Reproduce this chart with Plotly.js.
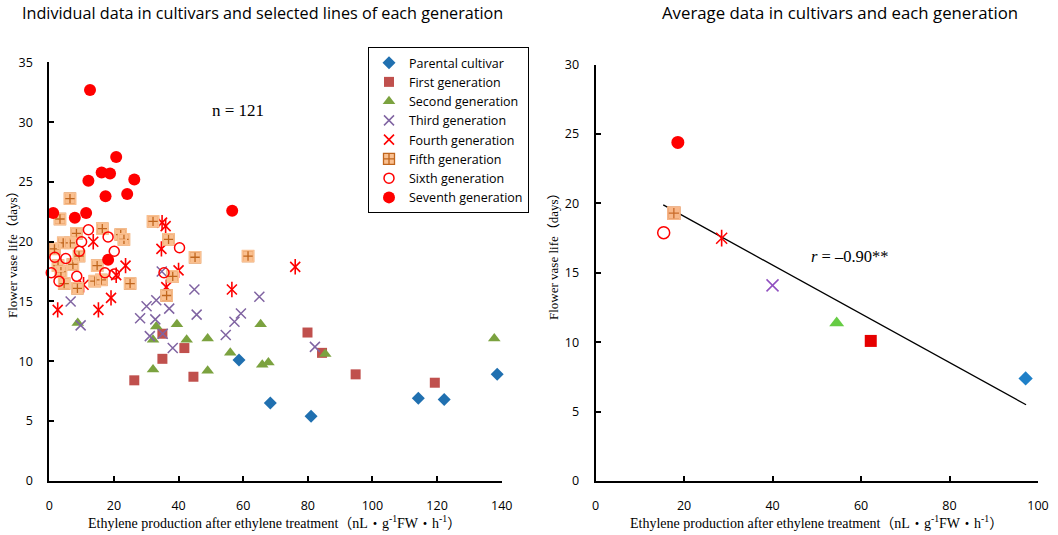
<!DOCTYPE html>
<html>
<head>
<meta charset="utf-8">
<script src="https://cdn.plot.ly/plotly-3.0.1.min.js"></script>
<style>html,body{margin:0;padding:0;background:#fff;}#chart{width:1058px;height:535px;}</style>
</head>
<body>
<div id="chart"></div>
<script>
// ---------- data: individual lines (left panel) ----------
const seriesNames = ["Parental cultivar","First generation","Second generation","Third generation","Fourth generation","Fifth generation","Sixth generation","Seventh generation"];

const parentalX = [58.7, 68.4, 81.0, 114.2, 122.2, 138.6];
const parentalY = [10.1, 6.5, 5.4, 6.9, 6.8, 8.9];

const firstX = [26.3, 35.0, 35.0, 41.8, 44.6, 79.9, 84.4, 94.8, 119.3];
const firstY = [8.4, 10.2, 12.3, 11.1, 8.7, 12.4, 10.7, 8.9, 8.2];

const secondX = [8.8, 32.1, 32.1, 33.1, 39.5, 42.5, 49.0, 49.0, 56.0, 65.4, 65.9, 67.8, 85.4, 137.7];
const secondY = [13.2, 9.3, 11.8, 12.9, 13.1, 11.8, 11.9, 9.2, 10.7, 13.1, 9.7, 9.9, 10.6, 11.9];

const thirdX = [6.6, 9.7, 28.1, 30.1, 31.1, 32.8, 33.1, 34.8, 35.1, 37.1, 38.2, 44.9, 45.6, 54.6, 57.3, 59.3, 65.0, 82.2];
const thirdY = [15.0, 13.0, 13.6, 14.6, 12.1, 13.5, 15.1, 17.5, 12.3, 14.4, 11.1, 16.0, 13.9, 12.2, 13.3, 14.0, 15.4, 11.2];

const fourthX = [2.6, 10.6, 13.6, 15.2, 19.1, 20.7, 23.6, 34.7, 34.9, 36.0, 36.2, 40.0, 56.5, 76.1];
const fourthY = [14.3, 16.4, 20.0, 14.3, 15.3, 17.2, 18.0, 19.4, 21.6, 21.3, 16.2, 17.6, 16.0, 17.9];

const fifthX = [3.3, 6.4, 8.4, 16.4, 22.1, 23.1, 1.6, 4.3, 6.5, 9.2, 2.7, 7.3, 14.8, 3.6, 14.1, 16.1, 8.7, 25.0, 4.6, 32.1, 36.9, 45.1, 38.2, 36.3, 61.5];
const fifthY = [21.9, 23.6, 20.7, 21.1, 20.6, 20.2, 19.4, 19.9, 19.9, 18.8, 18.0, 18.1, 18.0, 17.5, 16.7, 16.8, 16.1, 16.5, 16.5, 21.7, 20.2, 18.7, 17.1, 15.5, 18.8];

const sixthX = [12.1, 18.2, 10.0, 9.3, 20.1, 40.3, 1.7, 5.1, 0.6, 3.0, 8.5, 17.2, 20.1, 35.5];
const sixthY = [21.0, 20.4, 20.0, 19.2, 19.2, 19.5, 18.7, 18.6, 17.4, 16.7, 17.1, 17.4, 17.3, 17.4];

const seventhX = [20.7, 16.2, 18.8, 12.1, 26.3, 17.4, 24.1, 1.2, 7.9, 11.4, 18.2, 12.6, 56.6];
const seventhY = [27.1, 25.8, 25.7, 25.1, 25.2, 23.8, 24.0, 22.4, 22.0, 22.4, 18.5, 32.7, 22.6];

// ---------- data: averages (right panel), same order as seriesNames ----------
const avgX = [97.2, 62.2, 54.5, 40.0, 28.5, 17.7, 15.4, 18.6];
const avgY = [7.4, 10.1, 11.4, 14.1, 17.5, 19.3, 17.9, 24.4];

// regression line end points
const fitX = [15.3, 97.3];
const fitY = [19.9, 5.5];

// tick values
const leftXTicks = [0, 20, 40, 60, 80, 100, 120, 140];
const leftYTicks = [0, 5, 10, 15, 20, 25, 30, 35];
const rightXTicks = [0, 20, 40, 60, 80, 100];
const rightYTicks = [0, 5, 10, 15, 20, 25, 30];

// ---------- styles ----------
const leftStyles = [
  {symbol:"diamond", size:10, color:"#2070b0", line:{width:0}},
  {symbol:"square", size:10, color:"#c0504d", line:{width:0}},
  {symbol:"triangle-up", size:11, color:"#7ba23f", line:{width:0}},
  {symbol:"x-thin-open", size:10, color:"#8064a2", line:{width:1.5, color:"#8064a2"}},
  {symbol:"x-thin-open", size:10, color:"#ff0000", line:{width:1.6, color:"#ff0000"}},
  {symbol:"square-cross", size:11, color:"#fac090", line:{width:1.3, color:"#c0651c"}},
  {symbol:"circle-open", size:10, color:"#ff0000", line:{width:1.5, color:"#ff0000"}},
  {symbol:"circle", size:12, color:"#ff0000", line:{width:0}}
];
const rightStyles = [
  {symbol:"diamond", size:11, color:"#1f80c8", line:{width:0}},
  {symbol:"square", size:12, color:"#e60000", line:{width:0}},
  {symbol:"triangle-up", size:13, color:"#66cc44", line:{width:0}},
  {symbol:"x-thin-open", size:12, color:"#9050c0", line:{width:1.5, color:"#9050c0"}},
  {symbol:"x-thin-open", size:11, color:"#ff0000", line:{width:1.5, color:"#ff0000"}},
  {symbol:"square-cross", size:12, color:"#f8b88b", line:{width:1.3, color:"#c96b2b"}},
  {symbol:"circle-open", size:12, color:"#ff0000", line:{width:1.5, color:"#ff0000"}},
  {symbol:"circle", size:13, color:"#ff0000", line:{width:0}}
];

const leftXs = [parentalX, firstX, secondX, thirdX, fourthX, fifthX, sixthX, seventhX];
const leftYs = [parentalY, firstY, secondY, thirdY, fourthY, fifthY, sixthY, seventhY];

// extra overlay marks that complete a composite symbol
function overlays(i, xs, ys, xa, ya, sz) {
  if (i === 4) {
    // vertical bar turning the X into a six-armed asterisk
    return [{type:"scatter", mode:"markers", showlegend:false, x:xs, y:ys, xaxis:xa, yaxis:ya,
      marker:{symbol:"line-ns-open", size:sz + 1, color:"#ff0000", line:{width:1.6, color:"#ff0000"}}, hoverinfo:"skip"}];
  }
  if (i === 5) {
    // cover the dark square outline so only the inner cross stays brown
    const c = xa === "x" ? "#fac090" : "#f8b88b";
    return [{type:"scatter", mode:"markers", showlegend:false, x:xs, y:ys, xaxis:xa, yaxis:ya,
      marker:{symbol:"square-open", size:sz, color:c, line:{width:1.6, color:c}}, hoverinfo:"skip"}];
  }
  return [];
}

const traces = [];
for (let i = 0; i < seriesNames.length; i++) {
  traces.push({
    type:"scatter", mode:"markers", name:seriesNames[i],
    x:leftXs[i], y:leftYs[i], xaxis:"x", yaxis:"y",
    marker:leftStyles[i], cliponaxis:false, hoverinfo:"x+y"
  });
  overlays(i, leftXs[i], leftYs[i], "x", "y", leftStyles[i].size).forEach(t => traces.push(t));
}
// regression line
traces.push({
  type:"scatter", mode:"lines", showlegend:false,
  x:fitX, y:fitY, xaxis:"x2", yaxis:"y2",
  line:{color:"#000", width:1.3}, hoverinfo:"skip"
});
for (let i = 0; i < seriesNames.length; i++) {
  traces.push({
    type:"scatter", mode:"markers", showlegend:false, name:seriesNames[i],
    x:[avgX[i]], y:[avgY[i]], xaxis:"x2", yaxis:"y2",
    marker:rightStyles[i], cliponaxis:false
  });
  overlays(i, [avgX[i]], [avgY[i]], "x2", "y2", rightStyles[i].size).forEach(t => traces.push(t));
}

const tickFont = {family:"Open Sans", size:12.5, color:"#000"};
const serif = "Liberation Serif, Times New Roman, Noto Sans CJK JP, serif";
function axis(extra) {
  return Object.assign({
    showline:true, linecolor:"#000", linewidth:2,
    ticks:"inside", ticklen:5, tickwidth:2, tickcolor:"#000",
    showgrid:false, zeroline:false, tickfont:tickFont,
    fixedrange:true
  }, extra);
}

const xTitle = "Ethylene production after ethylene treatment（nL・g<sup>-1</sup>FW・h<sup>-1</sup>）";
const yTitle = "Flower vase life（days）";

const layout = {
  width:1058, height:535,
  margin:{l:0, r:0, t:0, b:0},
  paper_bgcolor:"#fff", plot_bgcolor:"#fff",
  showlegend:true,
  xaxis: axis({domain:[0.0466, 0.4742], range:[0,140], tickvals:leftXTicks, anchor:"y", ticklabelstandoff:12}),
  yaxis: axis({domain:[0.1015, 0.8832], range:[0,35], tickvals:leftYTicks, anchor:"x", ticklabelstandoff:12}),
  xaxis2: axis({domain:[0.5629, 0.9811], range:[0,100], tickvals:rightXTicks, anchor:"y2", ticklabelstandoff:12}),
  yaxis2: axis({domain:[0.1007, 0.8791], range:[0,30], tickvals:rightYTicks, anchor:"x2", ticklabelstandoff:12}),
  legend:{
    x:368/1058, y:(535-47)/535, xanchor:"left", yanchor:"top",
    bgcolor:"#fff", bordercolor:"#000", borderwidth:1,
    font:{family:"Open Sans, Lato, sans-serif", size:12.5, color:"#000"},
    tracegroupgap:0, itemwidth:30
  },
  annotations:[
    {text:"Individual data in cultivars and selected lines of each generation", xref:"paper", yref:"paper",
     x:262.5/1058, y:(535-13)/535, xanchor:"center", yanchor:"middle", showarrow:false,
     font:{family:"Open Sans", size:16.2, color:"#000"}},
    {text:"Average data in cultivars and each generation", xref:"paper", yref:"paper",
     x:840/1058, y:(535-13)/535, xanchor:"center", yanchor:"middle", showarrow:false,
     font:{family:"Open Sans", size:16.8, color:"#000"}},
    {text:xTitle, xref:"paper", yref:"paper", x:274/1058, y:(535-522)/535,
     xanchor:"center", yanchor:"middle", showarrow:false, font:{family:serif, size:14, color:"#000"}},
    {text:xTitle, xref:"paper", yref:"paper", x:816/1058, y:(535-522)/535,
     xanchor:"center", yanchor:"middle", showarrow:false, font:{family:serif, size:14, color:"#000"}},
    {text:yTitle, xref:"paper", yref:"paper", x:13/1058, y:(535-251)/535, textangle:-90,
     xanchor:"center", yanchor:"middle", showarrow:false, font:{family:serif, size:13, color:"#000"}},
    {text:yTitle, xref:"paper", yref:"paper", x:553/1058, y:(535-253)/535, textangle:-90,
     xanchor:"center", yanchor:"middle", showarrow:false, font:{family:serif, size:13, color:"#000"}},
    {text:"n = 121", xref:"x", yref:"y", x:58.4, y:31.0, showarrow:false,
     xanchor:"center", yanchor:"middle", font:{family:serif, size:17, color:"#000"}},
    {text:"<i>r</i> = –0.90**", xref:"x2", yref:"y2", x:57.5, y:16.2, showarrow:false,
     xanchor:"center", yanchor:"middle", font:{family:serif, size:16.5, color:"#000"}}
  ]
};

Plotly.newPlot("chart", traces, layout, {displayModeBar:false, staticPlot:true});
</script>
</body>
</html>
